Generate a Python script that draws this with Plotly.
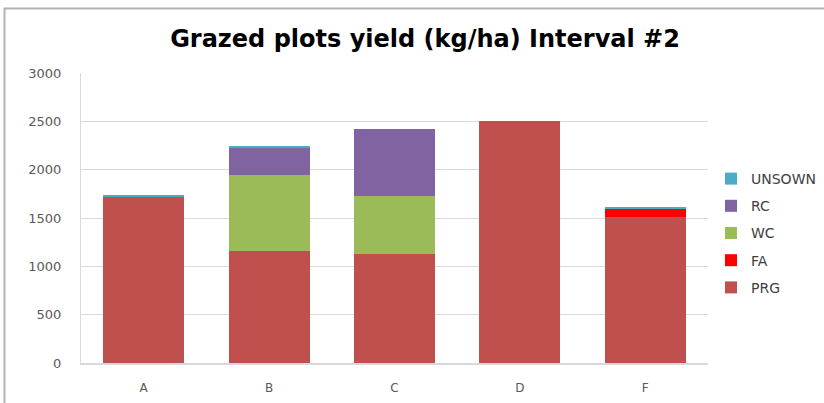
import plotly.graph_objects as go

categories = ["A", "B", "C", "D", "F"]
prg = [1720, 1160, 1125, 2500, 1515]
fa = [0, 0, 0, 0, 85]
wc = [0, 785, 600, 0, 0]
rc = [0, 285, 695, 0, 0]
unsown = [18, 6, 0, 0, 17]
y_ticks = [0, 500, 1000, 1500, 2000, 2500, 3000]

series = [
    ("PRG", prg, "#C0504D"),
    ("FA", fa, "#FF0000"),
    ("WC", wc, "#9BBB59"),
    ("RC", rc, "#8064A2"),
    ("UNSOWN", unsown, "#4BACC6"),
]

fig = go.Figure()
for i, (name, vals, color) in enumerate(series):
    fig.add_trace(go.Bar(x=categories, y=vals, name=name, marker_color=color,
                         marker_line_width=0, legendgroup=name,
                         legendrank=1000 - i))

L, R, T, B = 81, 116, 73, 40
W, H = 824, 403
pw, ph = W - L - R, H - T - B

fig.update_layout(
    width=W, height=H,
    margin=dict(l=L, r=R, t=T, b=B, autoexpand=False),
    paper_bgcolor="white", plot_bgcolor="white",
    barmode="stack", bargap=0.355,
    font=dict(family="DejaVu Sans, sans-serif", color="#595959", size=12),
    title=dict(text="<b>Grazed plots yield (kg/ha) Interval #2</b>",
               x=425 / W, xanchor="center", y=1 - 39 / H, yanchor="middle",
               font=dict(size=24, color="#000000", family="DejaVu Sans, sans-serif")),
    legend=dict(traceorder="grouped", xref="container", yref="container",
                x=711 / W, xanchor="left",
                y=1 - 163 / H, yanchor="top",
                font=dict(size=14, color="#404040"), itemwidth=30,
                tracegroupgap=6, bgcolor="rgba(0,0,0,0)"),
    showlegend=True,
    shapes=[dict(type="rect", xref="paper", yref="paper",
                 x0=(4.5 - L) / pw, x1=2, y0=-1, y1=(H - B - 8.5) / ph,
                 line=dict(color="#B3B3B3", width=2), layer="below")],
)
fig.update_yaxes(range=[0, 3000], tickvals=y_ticks, showgrid=True,
                 gridcolor="#D9D9D9", gridwidth=1.3, showline=True,
                 linecolor="#D9D9D9", linewidth=1.3, ticks="",
                 ticklabelstandoff=16, zeroline=False,
                 tickfont=dict(size=13, color="#595959"))
fig.update_xaxes(showline=True, linecolor="#D9D9D9", linewidth=1.5, ticks="",
                 ticklabelstandoff=13, tickfont=dict(size=12, color="#595959"))

fig.write_html("out.html", config={"displayModeBar": False},
               post_script="document.body.style.margin='0';document.documentElement.style.overflow='hidden';")
